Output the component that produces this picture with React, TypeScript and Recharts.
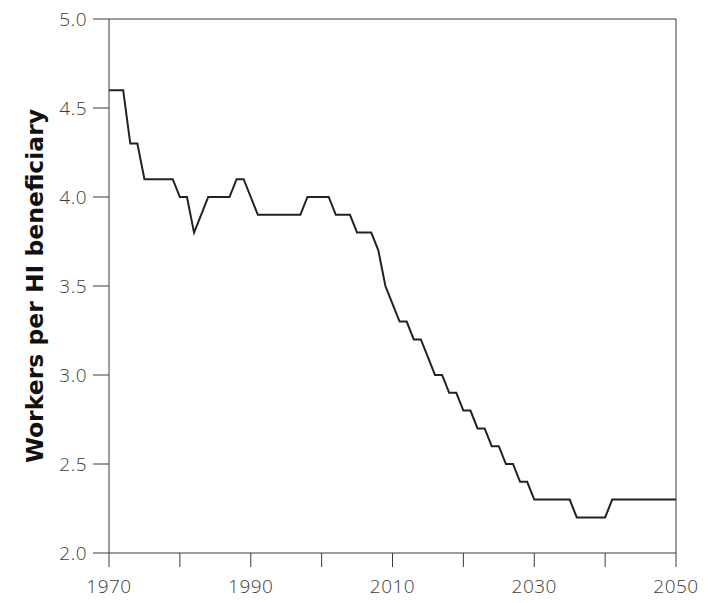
import React from 'react';
import { LineChart, Line, XAxis, YAxis, ReferenceLine } from 'recharts';

const years = [
  1970, 1971, 1972, 1973, 1974, 1975, 1976, 1977, 1978, 1979,
  1980, 1981, 1982, 1983, 1984, 1985, 1986, 1987, 1988, 1989,
  1990, 1991, 1992, 1993, 1994, 1995, 1996, 1997, 1998, 1999,
  2000, 2001, 2002, 2003, 2004, 2005, 2006, 2007, 2008, 2009,
  2010, 2011, 2012, 2013, 2014, 2015, 2016, 2017, 2018, 2019,
  2020, 2021, 2022, 2023, 2024, 2025, 2026, 2027, 2028, 2029,
  2030, 2031, 2032, 2033, 2034, 2035, 2036, 2037, 2038, 2039,
  2040, 2041, 2042, 2043, 2044, 2045, 2046, 2047, 2048, 2049,
  2050,
];

const workersPerBeneficiary = [
  4.6, 4.6, 4.6, 4.3, 4.3, 4.1, 4.1, 4.1, 4.1, 4.1,
  4.0, 4.0, 3.8, 3.9, 4.0, 4.0, 4.0, 4.0, 4.1, 4.1,
  4.0, 3.9, 3.9, 3.9, 3.9, 3.9, 3.9, 3.9, 4.0, 4.0,
  4.0, 4.0, 3.9, 3.9, 3.9, 3.8, 3.8, 3.8, 3.7, 3.5,
  3.4, 3.3, 3.3, 3.2, 3.2, 3.1, 3.0, 3.0, 2.9, 2.9,
  2.8, 2.8, 2.7, 2.7, 2.6, 2.6, 2.5, 2.5, 2.4, 2.4,
  2.3, 2.3, 2.3, 2.3, 2.3, 2.3, 2.2, 2.2, 2.2, 2.2,
  2.2, 2.3, 2.3, 2.3, 2.3, 2.3, 2.3, 2.3, 2.3, 2.3,
  2.3,
];

const xTicks = [1970, 1980, 1990, 2000, 2010, 2020, 2030, 2040, 2050];
const xLabels = [1970, 1990, 2010, 2030, 2050];
const yTicks = [2.0, 2.5, 3.0, 3.5, 4.0, 4.5, 5.0];

const AXIS = '#3a3a3a';
const tickFont = {
  fontFamily: 'Open Sans',
  fontWeight: 300,
  fontSize: 19,
  letterSpacing: 0.5,
  fill: '#3c3c3c',
};

export default function App() {
  const data = years.map((year, i) => ({ year, value: workersPerBeneficiary[i] }));

  return (
    // pulled up a little so the "5.0" label sits fully inside the svg
    <div style={{ marginTop: -6 }}>
      <LineChart
        width={700}
        height={596}
        data={data}
        margin={{ top: 17, right: 32, bottom: 15, left: 0 }}
      >
        <XAxis
          dataKey="year"
          type="number"
          domain={[1970, 2050]}
          ticks={xTicks}
          interval={0}
          tickFormatter={(v) => (xLabels.includes(v) ? String(v) : '')}
          tickSize={14}
          tickMargin={13}
          stroke={AXIS}
          tick={tickFont}
        />
        <YAxis
          type="number"
          domain={[2, 5]}
          ticks={yTicks}
          interval={0}
          tickFormatter={(v) => v.toFixed(1)}
          width={101}
          tickSize={16}
          tickMargin={6}
          stroke={AXIS}
          tick={tickFont}
          label={{
            value: 'Workers per HI beneficiary',
            angle: -90,
            position: 'insideLeft',
            offset: 27,
            style: {
              textAnchor: 'middle',
              fontFamily: 'DejaVu Sans',
              fontWeight: 700,
              fontSize: 23.5,
              fill: '#111',
            },
          }}
        />
        <ReferenceLine y={5} stroke={AXIS} />
        <ReferenceLine x={2050} stroke={AXIS} />
        <Line
          type="linear"
          dataKey="value"
          stroke="#222"
          strokeWidth={2}
          dot={false}
          isAnimationActive={false}
        />
      </LineChart>
    </div>
  );
}
